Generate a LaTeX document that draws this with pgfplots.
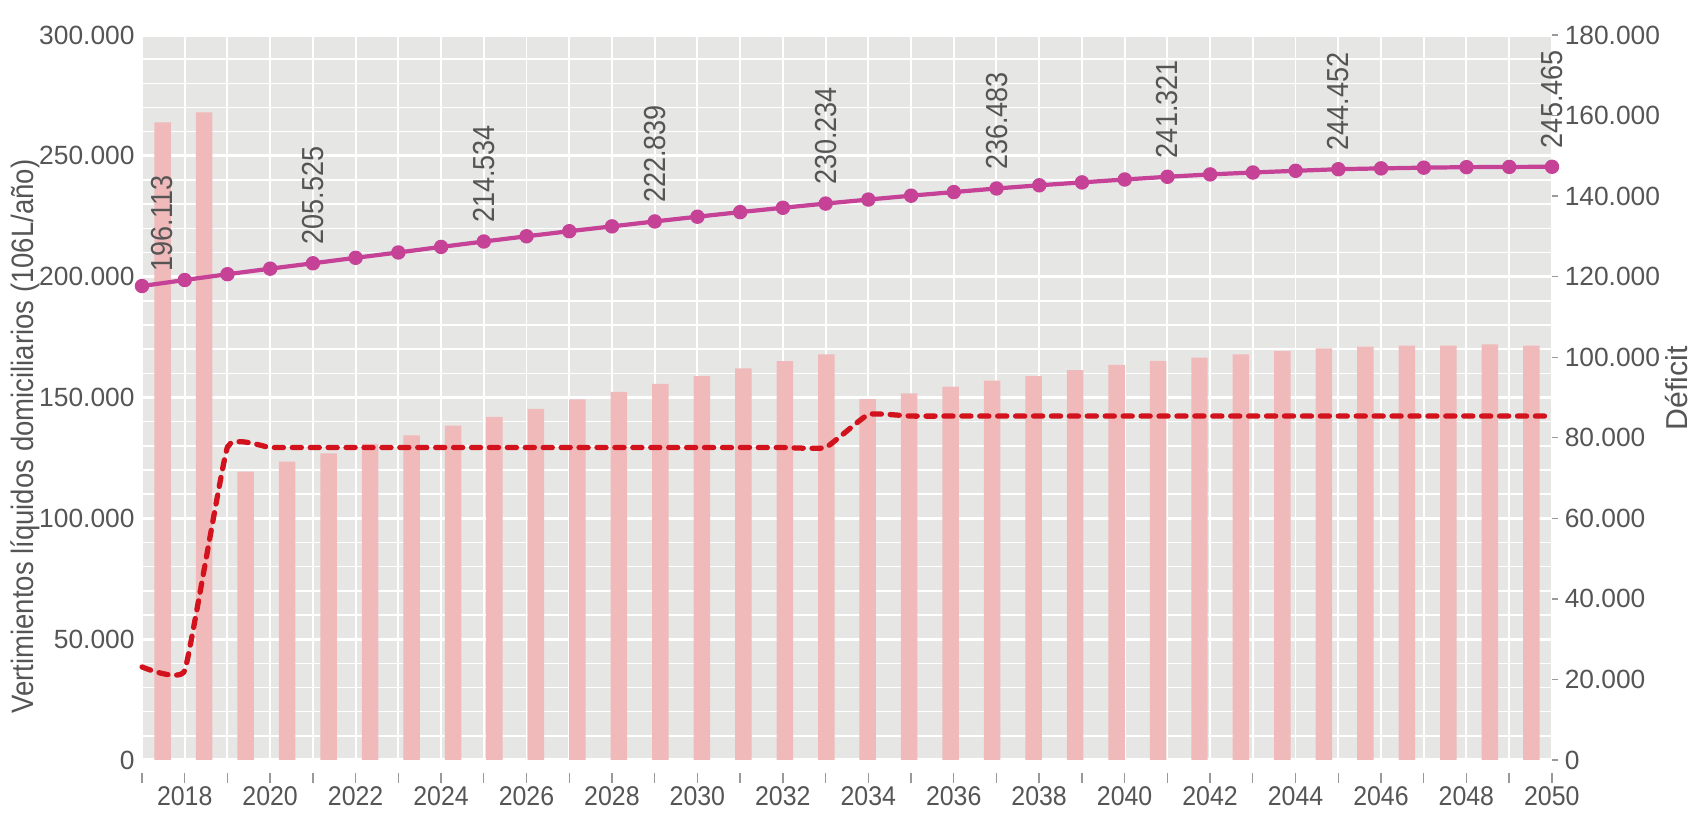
\documentclass[border=0pt]{standalone}
\usepackage{pgfplots}
\pgfplotsset{compat=1.18}
\usepackage{pgfplotstable}
\usepackage{fontspec}
\setmainfont{Liberation Sans}
\newfontfamily\fnarrow{Liberation Sans}[FakeStretch=0.92]
\newfontfamily\frot{Liberation Sans}[FakeStretch=0.89]

\definecolor{bgc}{RGB}{230,230,229}
\definecolor{barc}{RGB}{240,186,186}
\definecolor{linec}{RGB}{197,66,150}
\definecolor{dashc}{RGB}{210,18,28}
\definecolor{txt}{RGB}{85,85,85}

% Deficit bars (right axis)
\pgfplotstableread{
year def
2017 158300
2018 160800
2019 71600
2020 74100
2021 76100
2022 78500
2023 80600
2024 83000
2025 85200
2026 87200
2027 89500
2028 91400
2029 93400
2030 95300
2031 97200
2032 99000
2033 100700
2034 89600
2035 91000
2036 92700
2037 94200
2038 95300
2039 96800
2040 98100
2041 99100
2042 99900
2043 100700
2044 101500
2045 102200
2046 102600
2047 102900
2048 102900
2049 103200
2050 102900
}\deficit

% Vertimientos (left axis)
\pgfplotstableread{
year vert
2017 196113
2018 198600
2019 201000
2020 203300
2021 205525
2022 207800
2023 210000
2024 212300
2025 214534
2026 216700
2027 218800
2028 220800
2029 222839
2030 224800
2031 226700
2032 228500
2033 230234
2034 231900
2035 233500
2036 235000
2037 236483
2038 237800
2039 239000
2040 240200
2041 241321
2042 242300
2043 243100
2044 243800
2045 244452
2046 244800
2047 245100
2048 245300
2049 245400
2050 245465
}\vertim

% dashed series (left axis)
\pgfplotstableread{
year val
2017 38500
2018 37000
2019 129500
2020 129300
2021 129300
2022 129300
2023 129300
2024 129300
2025 129300
2026 129300
2027 129300
2028 129300
2029 129300
2030 129300
2031 129300
2032 129300
2033 129300
2034 143000
2035 142300
2036 142300
2037 142300
2038 142300
2039 142300
2040 142300
2041 142300
2042 142300
2043 142300
2044 142300
2045 142300
2046 142300
2047 142300
2048 142300
2049 142300
2050 142300
}\dashed

\pgfplotstableread{
year vert lab
2021 205525 205.525
2025 214534 214.534
2029 222839 222.839
2033 230234 230.234
2037 236483 236.483
2041 241321 241.321
2045 244452 244.452
2050 245465 245.465
}\labs

\pgfplotsset{base/.style={
  width=14.10cm, height=7.25cm, scale only axis,
  at={(0,0)}, anchor=south west,
  ticklabel style={font=\fontsize{7.5}{9}\selectfont, text=txt},
  scaled y ticks=false,
  /pgf/number format/fixed,
  /pgf/number format/1000 sep={.},
  /pgf/number format/assume math mode=true,
}}
\tikzset{vlab/.style={rotate=90, anchor=west, inner sep=0pt,
  font=\frot\fontsize{8.65}{10}\selectfont, text=txt}}

\begin{document}
\begin{tikzpicture}
\useasboundingbox (-1.42,-0.55) rectangle (15.51,7.60);

% background, grid, x ticks, left axis
\begin{axis}[base,
  xmin=2017, xmax=2050, ymin=0, ymax=300000,
  axis background/.style={fill=bgc},
  axis line style={draw=none},
  xtick pos=left, ytick pos=left,
  xtick={2017,...,2050},
  xticklabels={,2018,,2020,,2022,,2024,,2026,,2028,,2030,,2032,,2034,,2036,,2038,,2040,,2042,,2044,,2046,,2048,,2050},
  ytick={0,50000,...,300000},
  minor y tick num=4,
  grid=both,
  major x grid style={white, line width=0.55pt},
  major y grid style={white, line width=0.9pt},
  minor y grid style={white, line width=0.4pt},
  ytick style={draw=none},
  minor tick length=0pt,
  tick align=outside,
  major tick length=3pt,
  xtick style={draw=gray!80, line width=0.4pt, yshift=-3.6pt},
  xticklabel style={yshift=-1pt, font=\fnarrow\fontsize{7.7}{9}\selectfont},
  yticklabel style={xshift=4.4pt},
  ylabel={Vertimientos líquidos domiciliarios (106L/año)},
  ylabel style={at={(axis description cs:-0.083,0.446)}, anchor=center,
    font=\frot\fontsize{8.8}{10}\selectfont, text=txt},
]
\end{axis}

% bars, right axis
\begin{axis}[base,
  xmin=2016.5, xmax=2050.5, ymin=0, ymax=180000,
  hide x axis,
  axis y line*=right,
  axis line style={draw=none},
  ytick={0,20000,...,180000},
  tick align=outside,
  major tick length=1.6pt,
  ytick style={draw=gray!80, line width=0.4pt},
  yticklabel style={xshift=-1.5pt},
  ylabel={Déficit},
  ylabel style={at={(axis description cs:1.088,0.513)}, anchor=center,
    font=\fontsize{8.6}{10}\selectfont, text=txt},
]
\addplot[ybar, bar width=0.165cm, fill=barc, draw=none] table[x=year, y=def] {\deficit};
\end{axis}

% lines
\begin{axis}[base,
  xmin=2017, xmax=2050, ymin=0, ymax=300000,
  hide axis, clip=false,
]
\addplot[dashc, line width=1.5pt, dash pattern=on 2.6pt off 2.5pt, line cap=round,
  smooth, tension=0.2, mark=none] table[x=year, y=val] {\dashed};
\addplot[linec, line width=1.2pt, mark=*, mark size=1.9pt,
  mark options={solid, fill=linec, draw=linec, line width=0.3pt}] table[x=year, y=vert] {\vertim};
\addplot[only marks, mark=none, point meta=explicit symbolic, nodes near coords,
  nodes near coords style={yshift=0.18cm, vlab}]
  table[x=year, y=vert, meta=lab] {\labs};
\addplot[only marks, mark=none, point meta=explicit symbolic, nodes near coords,
  nodes near coords style={yshift=0.14cm, xshift=0.2cm, vlab}]
  coordinates {(2017,196113) [196.113]};
\end{axis}
\end{tikzpicture}
\end{document}
